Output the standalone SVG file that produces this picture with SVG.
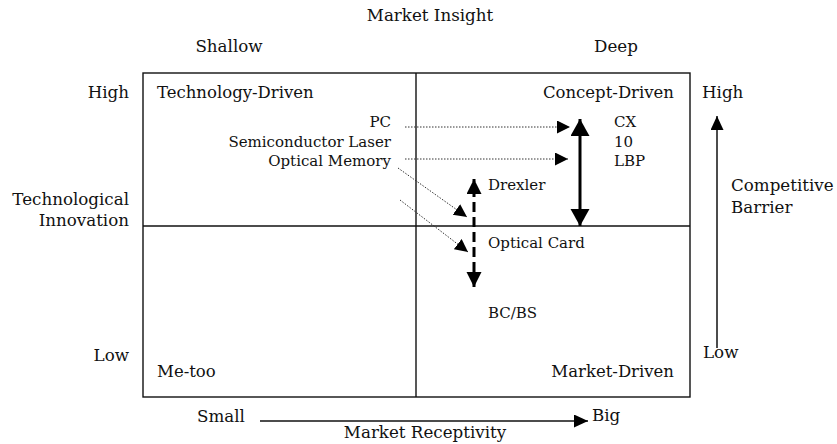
<svg xmlns="http://www.w3.org/2000/svg" width="837" height="444" viewBox="0 0 837 444">
<style>
  text { font-family: "DejaVu Serif", "Liberation Serif", serif; fill: #111; }
  .h { font-size: 16.5px; }
  .l { font-size: 15px; }
  .a { font-size: 16.7px; }
  .frame { fill: none; stroke: #111; stroke-width: 1.4; }
  .dot { fill: none; stroke: #333; stroke-width: 1; stroke-dasharray: 1.5 1.5; }
  .thick { fill: none; stroke: #000; stroke-width: 3; }
  .dash { fill: none; stroke: #000; stroke-width: 3; stroke-dasharray: 10 5; }
  .axis { fill: none; stroke: #111; stroke-width: 1.5; }
</style>
<defs>
  <marker id="mDot" markerUnits="userSpaceOnUse" markerWidth="14" markerHeight="14" refX="13" refY="6.5" orient="auto"><path d="M0,0 L13,6.5 L0,13 Z" fill="#000"/></marker>
  <marker id="mBig" markerUnits="userSpaceOnUse" markerWidth="18" markerHeight="20" refX="17" refY="9.5" orient="auto-start-reverse"><path d="M0,0 L17,9.5 L0,19 Z" fill="#000"/></marker>
  <marker id="mDash" markerUnits="userSpaceOnUse" markerWidth="16" markerHeight="16" refX="15" refY="7.5" orient="auto-start-reverse"><path d="M0,0 L15,7.5 L0,15 Z" fill="#000"/></marker>
  <marker id="mAxis" markerUnits="userSpaceOnUse" markerWidth="15" markerHeight="14" refX="14" refY="6.5" orient="auto"><path d="M0,0 L14,6.5 L0,13 Z" fill="#000"/></marker>
</defs>

<g id="frame">
  <rect class="frame" x="143" y="73" width="547" height="324"/>
  <line class="frame" x1="416" y1="73" x2="416" y2="397"/>
  <line class="frame" x1="143" y1="226" x2="690" y2="226"/>
</g>

<g id="axis-labels">
  <text class="a" x="430" y="21" text-anchor="middle">Market Insight</text>
  <text class="a" x="229" y="52" text-anchor="middle">Shallow</text>
  <text class="a" x="616" y="52" text-anchor="middle">Deep</text>
  <text class="a" x="129" y="98" text-anchor="end">High</text>
  <text class="a" x="129" y="205" text-anchor="end">Technological</text>
  <text class="a" x="129" y="226" text-anchor="end">Innovation</text>
  <text class="a" x="129" y="361" text-anchor="end">Low</text>
  <text class="a" x="702" y="98">High</text>
  <text class="a" x="731" y="191">Competitive</text>
  <text class="a" x="731" y="213">Barrier</text>
  <text class="a" x="703" y="358">Low</text>
  <text class="a" x="197" y="422">Small</text>
  <text class="a" x="592" y="421">Big</text>
  <text class="a" x="425" y="438" text-anchor="middle">Market Receptivity</text>
</g>

<g id="quadrant-technology-driven"><text class="h" x="157" y="98">Technology-Driven</text></g>
<g id="quadrant-concept-driven"><text class="h" x="674" y="98" text-anchor="end">Concept-Driven</text></g>
<g id="quadrant-me-too"><text class="h" x="157" y="377">Me-too</text></g>
<g id="quadrant-market-driven"><text class="h" x="674" y="377" text-anchor="end">Market-Driven</text></g>

<g id="node-pc"><text class="l" x="391" y="127" text-anchor="end">PC</text></g>
<g id="node-semiconductor-laser"><text class="l" x="391" y="147" text-anchor="end">Semiconductor Laser</text></g>
<g id="node-optical-memory"><text class="l" x="391" y="166" text-anchor="end">Optical Memory</text></g>
<g id="node-products"><text class="l" x="614" y="127">CX</text><text class="l" x="614" y="147">10</text><text class="l" x="614" y="166">LBP</text></g>
<g id="node-drexler"><text class="l" x="488" y="190">Drexler</text></g>
<g id="node-optical-card"><text class="l" x="488" y="248">Optical Card</text></g>
<g id="node-bcbs"><text class="l" x="488" y="318">BC/BS</text></g>

<g id="connectors">
  <line class="dot" x1="405" y1="127" x2="570" y2="127" marker-end="url(#mDot)"/>
  <line class="dot" x1="405" y1="159" x2="568" y2="159" marker-end="url(#mDot)"/>
  <line class="dot" x1="398" y1="168" x2="467" y2="217" marker-end="url(#mDot)"/>
  <line class="dot" x1="400" y1="200" x2="468" y2="252" marker-end="url(#mDot)"/>
  <line class="thick" x1="580" y1="226" x2="580" y2="119" marker-start="url(#mBig)" marker-end="url(#mBig)"/>
  <line class="dash" x1="474" y1="287" x2="474" y2="179" marker-start="url(#mDash)" marker-end="url(#mDash)"/>
  <line class="axis" x1="717" y1="348" x2="717" y2="116" marker-end="url(#mAxis)"/>
  <line class="axis" x1="260" y1="421" x2="588" y2="421" marker-end="url(#mAxis)"/>
</g>
</svg>
